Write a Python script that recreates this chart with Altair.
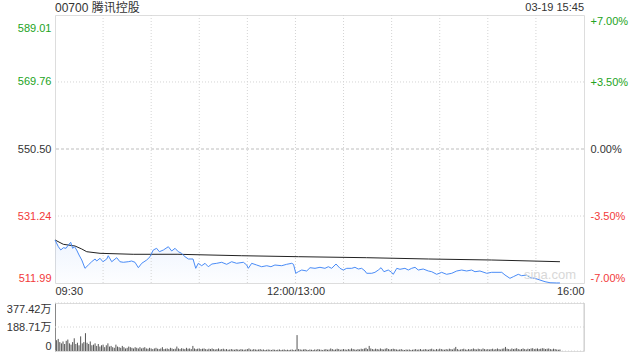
import altair as alt
import pandas as pd

FONT = "Liberation Sans, Arial, Noto Sans CJK SC, sans-serif"
GREEN = "#22a322"
RED = "#f23a3a"
DARK = "#333333"

# ---- data ----
header_left = "00700 腾讯控股"
header_right = "03-19 15:45"
watermark = "sina.com"
prev_close = 550.50

# minutes since 09:30 (lunch break removed, 330 = 16:00)
price_minutes = [0, 2.1, 3.6, 5.2, 6.9, 8.3, 9.8, 11.0, 12.2, 13.5, 15.0, 16.7, 18.7, 20.8, 22.9,
                 25.0, 26.0, 28.1, 29.9, 32.3, 33.2, 35.4, 38.5, 40.5, 42.6, 45.7, 47.8, 49.9, 52.0,
                 54.1, 57.2, 59.3, 61.3, 63.4, 65.1, 67.6, 70.7, 72.8, 74.9, 76.9, 79.0, 81.1, 83.2,
                 86.1, 87.8, 89.4, 91.5, 93.6, 95.6, 97.9, 100.9, 104.0, 107.1, 110.2, 113.3, 117.5,
                 119.6, 120.6, 122.7, 125.8, 128.9, 132.1, 134.7, 137.2, 141.4, 144.5, 147.7, 148.8,
                 150.2, 151.8, 153.9, 157.0, 159.1, 162.2, 165.3, 168.4, 170.5, 172.6, 175.3, 177.8,
                 179.8, 182.0, 185.1, 187.1, 189.2, 191.3, 193.4, 194.4, 197.6, 199.6, 201.7, 203.4,
                 205.2, 207.9, 210.0, 211.0, 213.2, 215.2, 218.3, 220.4, 222.5, 224.6, 226.6, 229.7,
                 232.9, 235.0, 238.1, 241.2, 244.3, 247.5, 250.6, 253.7, 256.8, 259.9, 262.0, 265.1,
                 269.3, 272.4, 278.7, 280.7, 283.8, 285.9, 289.0, 291.1, 294.2, 296.3, 299.4, 302.5,
                 305.7, 308.8, 313.0, 315.0]
price_values = [524.35, 522.42, 521.47, 522.13, 521.96, 522.91, 523.69, 521.96, 522.42, 521.47, 520.04,
                518.60, 516.21, 517.16, 518.11, 518.89, 518.31, 519.09, 518.11, 518.89, 519.83, 518.11,
                519.26, 518.11, 517.94, 518.11, 518.31, 517.94, 516.39, 517.65, 518.60, 519.55, 521.47,
                521.96, 520.98, 521.47, 522.42, 521.19, 521.96, 520.98, 520.52, 519.55, 518.89, 518.89,
                516.21, 517.65, 516.96, 517.65, 516.67, 517.45, 517.65, 517.94, 517.36, 518.11, 517.65,
                517.94, 517.16, 516.21, 517.65, 517.16, 516.67, 516.96, 516.67, 517.16, 516.96, 517.36,
                517.65, 517.36, 514.78, 515.24, 515.72, 515.44, 516.39, 516.21, 516.50, 516.21, 516.67,
                516.21, 517.45, 516.21, 515.72, 516.21, 516.21, 516.50, 516.01, 516.21, 515.44, 514.78,
                514.78, 515.06, 515.72, 516.39, 515.24, 515.72, 515.06, 514.49, 516.21, 515.93, 516.21,
                515.72, 516.21, 516.50, 515.72, 516.01, 515.44, 515.24, 514.49, 515.06, 514.49, 514.78,
                515.44, 515.72, 515.44, 515.72, 515.24, 515.44, 514.78, 515.06, 515.06, 514.29, 513.34,
                513.80, 514.49, 514.09, 514.29, 513.51, 513.34, 512.85, 512.36, 512.07, 512.00, 512.00]

avg_minutes = [0, 5.2, 12.5, 16.7, 19.8, 28.1, 48.8, 76.7, 116.5, 151.8, 194.4, 232.9, 272.4, 315.0]
avg_values = [524.35, 523.11, 522.62, 521.76, 520.98, 520.52, 520.24, 520.24, 519.83, 519.55, 519.26,
              518.89, 518.60, 518.11]

# volume per minute, in 万 shares
volume_wan = [85, 95, 70, 60, 75, 55, 80, 90, 60, 50, 70, 100, 55, 65, 45,
              115, 60, 70, 140, 65, 55, 75, 45, 50, 60, 40, 55, 35, 45, 50,
              30, 45, 60, 35, 40, 30, 25, 50, 35, 30, 25, 40, 30, 20, 25,
              35, 30, 25, 20, 30, 25, 20, 30, 20, 25, 30, 20, 18, 25, 20,
              15, 20, 25, 18, 15, 20, 30, 15, 18, 20, 15, 25, 20, 15, 18,
              35, 20, 15, 22, 18, 15, 25, 18, 20, 15, 40, 20, 15, 18, 20,
              15, 18, 20, 15, 12, 18, 15, 20, 15, 12, 15, 20, 12, 15, 18,
              12, 15, 10, 12, 15, 12, 10, 15, 12, 10, 15, 12, 10, 12, 15,
              20, 12, 10, 15, 12, 10, 12, 15, 10, 12, 8, 10, 12, 10, 8,
              12, 10, 8, 10, 12, 8, 10, 12, 8, 10, 8, 10, 12, 8, 10,
              125, 15, 12, 10, 12, 15, 10, 8, 12, 10, 8, 12, 10, 15, 12,
              10, 8, 12, 15, 10, 12, 20, 15, 10, 12, 18, 15, 10, 12, 15,
              12, 10, 15, 12, 20, 15, 12, 10, 15, 12, 18, 15, 20, 25, 15,
              40, 20, 15, 12, 18, 15, 12, 20, 15, 12, 18, 22, 15, 12, 15,
              18, 15, 12, 10, 12, 15, 10, 8, 12, 10, 12, 8, 10, 12, 15,
              10, 12, 15, 10, 12, 15, 12, 10, 15, 18, 12, 10, 15, 12, 18,
              15, 12, 10, 15, 12, 18, 15, 12, 20, 32, 15, 10, 12, 15, 18,
              12, 10, 15, 12, 15, 20, 15, 12, 18, 15, 12, 20, 15, 12, 15,
              12, 15, 18, 12, 15, 20, 15, 12, 18, 20, 32, 18, 15, 12, 20,
              15, 18, 22, 15, 12, 15, 20, 15, 12, 18, 15, 20, 22, 15, 18,
              20, 15, 18, 22, 20, 15, 18, 20, 15, 12, 18, 15, 12, 10, 12]

vgrid_minutes = [30, 60, 90, 120, 150, 180, 210, 240, 270, 300]
hgrid_prices = [531.24, 569.76]
price_ticks = [511.99, 531.24, 550.50, 569.76, 589.01]
pct_ticks = [-0.07, -0.035, 0.0, 0.035, 0.07]
time_ticks = [0, 150, 330]
vol_ticks = [0, 188.71, 377.42]

# ---- frames ----
price_df = pd.DataFrame({"minute": price_minutes, "price": price_values})
avg_df = pd.DataFrame({"minute": avg_minutes, "price": avg_values})
vol_df = pd.DataFrame({"minute": [i + 1 for i in range(len(volume_wan))], "vol": volume_wan})

W, H_PRICE, H_VOL = 529, 268, 48
x_scale = alt.Scale(domain=[0, 330], nice=False, zero=False)
p_scale = alt.Scale(domain=[price_ticks[0], price_ticks[-1]], nice=False, zero=False)

time_axis = alt.Axis(values=time_ticks, labelFlush=True, domain=False, ticks=False, grid=False,
                     labelPadding=2, labelFontSize=11, labelColor=DARK, labelFont=FONT, title=None,
                     labelExpr="datum.value == 0 ? '09:30' : datum.value == 150 ? '12:00/13:00' : '16:00'")
price_axis = alt.Axis(values=price_ticks, format=".2f", labelFlush=True, domain=False, ticks=False,
                      grid=False, labelPadding=4, labelFontSize=11, labelFont=FONT, title=None,
                      labelColor={"condition": [{"test": "datum.value > 550.6", "value": GREEN},
                                                {"test": "datum.value < 550.4", "value": RED}],
                                  "value": DARK},
                      labelOffset={"condition": {"test": "datum.value > 589", "value": 7}, "value": 0})
pct_axis = alt.Axis(values=pct_ticks, orient="right", labelFlush=True, domain=False, ticks=False,
                    grid=False, labelPadding=6, labelFontSize=11, labelFont=FONT, title=None,
                    labelExpr="(datum.value > 0.0001 ? '+' : datum.value < -0.0001 ? '-' : '') + format(abs(datum.value), '.2%')",
                    labelColor={"condition": [{"test": "datum.value > 0.0001", "value": GREEN},
                                              {"test": "datum.value < -0.0001", "value": RED}],
                                "value": DARK})

X = alt.X("minute:Q", scale=x_scale, axis=time_axis)
Y = alt.Y("price:Q", scale=p_scale, axis=price_axis)

gradient = alt.Gradient(gradient="linear", x1=1, x2=1, y1=0, y2=1,
                        stops=[alt.GradientStop(color="rgba(74,140,247,0.09)", offset=0),
                               alt.GradientStop(color="rgba(74,140,247,0.01)", offset=1)])

area = alt.Chart(price_df).mark_area(fill=gradient).encode(x=X, y=Y, y2=alt.datum(price_ticks[0]))

hgrid = alt.Chart(pd.DataFrame({"price": hgrid_prices})).mark_rule(
    color="#d4d4d4", strokeDash=[1, 2], strokeWidth=1).encode(y=Y)
mid = alt.Chart(pd.DataFrame({"price": [prev_close]})).mark_rule(
    color="#bdbdbd", strokeDash=[3, 2], strokeWidth=1).encode(y=Y)
vgrid = alt.Chart(pd.DataFrame({"minute": vgrid_minutes})).mark_rule(
    color="#d4d4d4", strokeDash=[1, 2], strokeWidth=1).encode(x=X)

avg_line = alt.Chart(avg_df).mark_line(color="#222222", strokeWidth=1).encode(x=X, y=Y)
price_line = alt.Chart(price_df).mark_line(color="#4a8cf7", strokeWidth=1).encode(x=X, y=Y)

wm = alt.Chart(pd.DataFrame({"t": [watermark]})).mark_text(
    align="right", baseline="middle", fontSize=13, font=FONT, color="#d8d8d8").encode(
    text="t:N", x=alt.value(W - 8), y=alt.value(H_PRICE - 8))

head_l = alt.Chart(pd.DataFrame({"t": [header_left]})).mark_text(
    align="left", baseline="middle", fontSize=12, font=FONT, color=DARK).encode(
    text="t:N", x=alt.value(0), y=alt.value(-7))
head_r = alt.Chart(pd.DataFrame({"t": [header_right]})).mark_text(
    align="right", baseline="middle", fontSize=11, font=FONT, color=DARK).encode(
    text="t:N", x=alt.value(W), y=alt.value(-7))

price_layers = alt.layer(area, hgrid, vgrid, mid, avg_line, price_line, wm, head_l, head_r)

pct_layer = alt.Chart(pd.DataFrame({"pct": pct_ticks})).mark_point(opacity=0).encode(
    y=alt.Y("pct:Q", scale=alt.Scale(domain=[-0.07, 0.07], nice=False, zero=False), axis=pct_axis))

price_panel = alt.layer(price_layers, pct_layer).resolve_scale(y="independent").properties(
    width=W, height=H_PRICE)

# ---- volume panel ----
vx = alt.X("minute:Q", scale=x_scale, axis=None)
vol_axis = alt.Axis(values=vol_ticks, labelFlush=True, domain=True, domainColor="#888888", ticks=False,
                    grid=False, labelPadding=4, labelFontSize=11, labelFont=FONT, labelColor=DARK,
                    title=None,
                    labelExpr="datum.value == 0 ? '0' : format(datum.value, '.2f') + '万'")
VY = alt.Y("vol:Q", scale=alt.Scale(domain=[0, vol_ticks[-1]], nice=False, zero=True), axis=vol_axis)

vgridlines = alt.Chart(pd.DataFrame({"vol": vol_ticks})).mark_rule(
    color="#d4d4d4", strokeDash=[1, 2], strokeWidth=1).encode(y=VY)
right_edge = alt.Chart(pd.DataFrame({"minute": [330]})).mark_rule(
    color="#cccccc", strokeWidth=1).encode(x=vx)
bars = alt.Chart(vol_df).mark_rule(color="#555555", strokeWidth=1).encode(
    x=vx, y=VY, y2=alt.datum(0))

vol_panel = alt.layer(vgridlines, right_edge, bars).properties(width=W, height=H_VOL)

chart = alt.vconcat(price_panel, vol_panel, spacing=5).properties(
    padding={"left": 5, "top": 1, "right": 0, "bottom": 0}
).configure_view(stroke="#cccccc").configure(font=FONT)

chart.save("out.html", embed_options={"renderer": "svg", "actions": False})
